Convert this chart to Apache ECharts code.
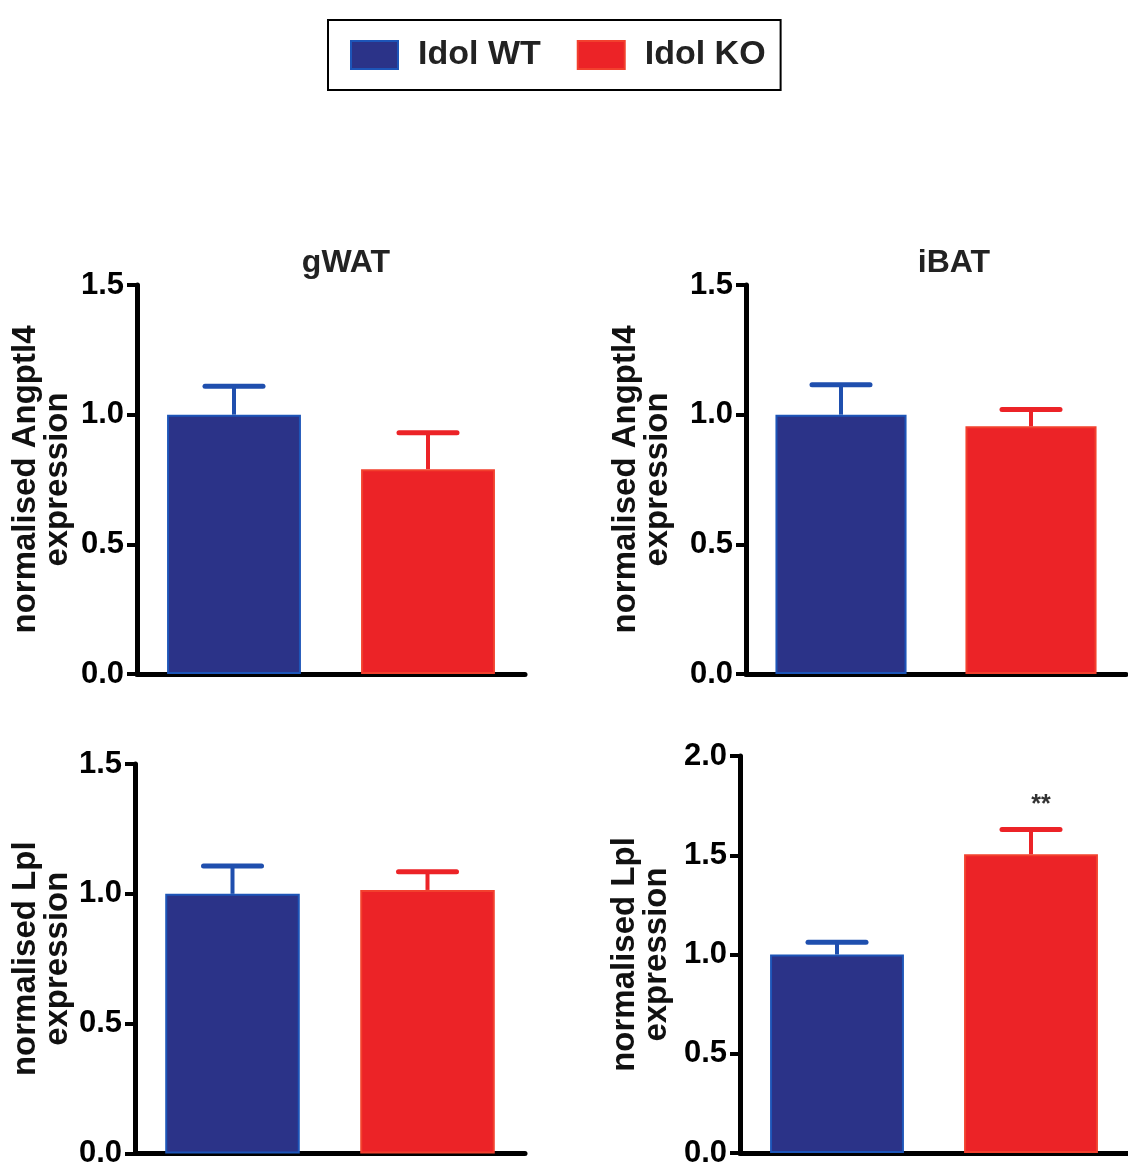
<!DOCTYPE html>
<html>
<head>
<meta charset="utf-8">
<script src="https://cdn.jsdelivr.net/npm/echarts@6/dist/echarts.min.js"></script>
<style>
html,body{margin:0;padding:0;background:#fff;}
#c{width:1128px;height:1169px;}
</style>
</head>
<body>
<div id="c"></div>
<script>
// ---- data ----
const groups = ['Idol WT', 'Idol KO'];
const panelTitles = ['gWAT', 'iBAT', '', ''];
const yNames = ['normalised Angptl4\nexpression', 'normalised Angptl4\nexpression', 'normalised Lpl\nexpression', 'normalised Lpl\nexpression'];
const angptl4GwatMean = [1.00, 0.79];
const angptl4GwatSem = [0.11, 0.14];
const angptl4IbatMean = [1.00, 0.955];
const angptl4IbatSem = [0.115, 0.065];
const lplGwatMean = [1.00, 1.015];
const lplGwatSem = [0.107, 0.07];
const lplIbatMean = [1.00, 1.505];
const lplIbatSem = [0.062, 0.125];
const lplIbatSig = ['', '**'];
const noSig = ['', ''];
const yMax = [1.5, 1.5, 1.5, 2.0];
const yStep = 0.5;

const means = [angptl4GwatMean, angptl4IbatMean, lplGwatMean, lplIbatMean];
const sems = [angptl4GwatSem, angptl4IbatSem, lplGwatSem, lplIbatSem];
const sigs = [noSig, noSig, noSig, lplIbatSig];

// ---- style ----
const fillColors = ['#2b3388', '#ec2327'];
const edgeColors = ['#1d55b8', '#f2402e'];
const errColors = ['#1f4fae', '#ec2327'];
const FONT = '"Liberation Sans", Arial, Helvetica, sans-serif';

const grids = [
  {left: 137, top: 285, width: 388, height: 389},
  {left: 746, top: 285, width: 380, height: 389},
  {left: 135, top: 764, width: 390, height: 392},
  {left: 740, top: 756, width: 388, height: 397}
];
const nameGaps = [63, 72, 61, 67];
const titlePos = [{x: 346, y: 247}, {x: 954, y: 247}];

const xAxes = [], yAxes = [], series = [];
grids.forEach((g, i) => {
  xAxes.push({
    type: 'category', gridIndex: i, data: groups,
    axisLine: {show: true, lineStyle: {color: '#000', width: 5}},
    axisTick: {show: false}, axisLabel: {show: false}
  });
  yAxes.push({
    type: 'value', gridIndex: i, min: 0, max: yMax[i], interval: yStep,
    name: yNames[i], nameLocation: 'middle', nameRotate: 90, nameGap: nameGaps[i],
    nameTextStyle: {fontFamily: FONT, fontWeight: 'bold', fontSize: 33, lineHeight: 32, color: '#111'},
    axisLine: {show: true, lineStyle: {color: '#000', width: 5}},
    axisTick: {show: true, length: 10, lineStyle: {color: '#000', width: 4}},
    axisLabel: {
      margin: 13, fontFamily: FONT, fontWeight: 'bold', fontSize: 31, color: '#000',
      formatter: v => v.toFixed(1)
    },
    splitLine: {show: false}
  });
  groups.forEach((name, k) => {
    series.push({
      type: 'bar', name: name, xAxisIndex: i, yAxisIndex: i,
      barWidth: '69%', barGap: '-100%',
      itemStyle: {color: fillColors[k], borderColor: edgeColors[k], borderWidth: 2},
      data: groups.map((_, j) => j === k ? means[i][j] : '-'),
      z: 2, animation: false
    });
  });
  series.push({
    type: 'custom', xAxisIndex: i, yAxisIndex: i, z: 5, animation: false,
    data: groups.map((_, j) => [j, means[i][j], means[i][j] + sems[i][j]]),
    renderItem: function (params, api) {
      const j = api.value(0);
      const base = api.coord([j, api.value(1)]);
      const top = api.coord([j, api.value(2)]);
      const col = errColors[j];
      const half = 29;
      const children = [
        {type: 'line', shape: {x1: top[0], y1: base[1], x2: top[0], y2: top[1]},
         style: {stroke: col, lineWidth: 4}},
        {type: 'line', shape: {x1: top[0] - half, y1: top[1], x2: top[0] + half, y2: top[1]},
         style: {stroke: col, lineWidth: 5, lineCap: 'round'}}
      ];
      const txt = sigs[i][j];
      if (txt) {
        children.push({type: 'text', x: top[0] + 10, y: top[1] - 24,
          style: {text: txt, fontFamily: FONT, fontWeight: 'bold', fontSize: 25, fill: '#333',
                  align: 'center', verticalAlign: 'middle'}});
      }
      return {type: 'group', children: children};
    }
  });
});

const option = {
  backgroundColor: '#fff',
  animation: false,
  title: titlePos.map((p, i) => ({
    text: panelTitles[i], left: p.x, top: p.y, textAlign: 'center', padding: 0,
    textStyle: {fontFamily: FONT, fontWeight: 'bold', fontSize: 32, color: '#222'}
  })),
  legend: {
    data: groups, left: 328, top: 20, orient: 'horizontal',
    icon: 'rect', itemWidth: 47, itemHeight: 28, itemGap: 36,
    borderColor: '#000', borderWidth: 2, padding: [18, 15, 18, 22],
    selectedMode: false,
    textStyle: {fontFamily: FONT, fontWeight: 'bold', fontSize: 34, color: '#222', padding: [0, 0, 0, 15]}
  },
  grid: grids,
  xAxis: xAxes,
  yAxis: yAxes,
  series: series
};

const chart = echarts.init(document.getElementById('c'), null, {renderer: 'canvas'});
chart.setOption(option);
</script>
</body>
</html>
